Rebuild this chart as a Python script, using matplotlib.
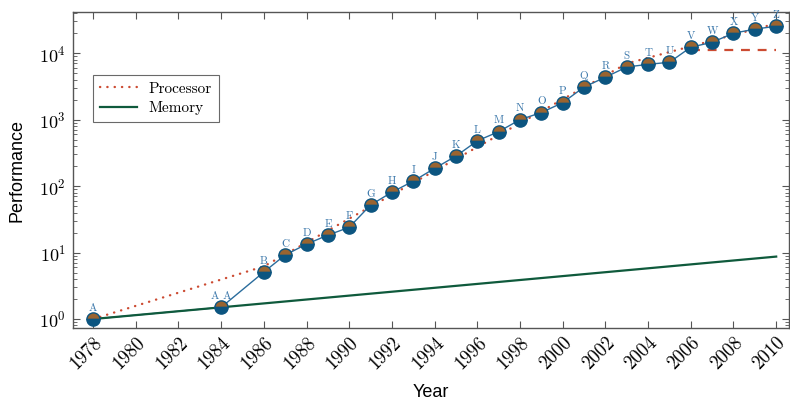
import matplotlib
matplotlib.use("Agg")
import matplotlib.pyplot as plt
from matplotlib.ticker import LogLocator, FixedLocator, NullFormatter

# Data
years = [1978, 1984, 1986, 1987, 1988, 1989, 1990, 1991, 1992, 1993, 1994,
         1995, 1996, 1997, 1998, 1999, 2000, 2001, 2002, 2003, 2004, 2005,
         2006, 2007, 2008, 2009, 2010]
point_labels = ['A', 'AA', 'B', 'C', 'D', 'E', 'F', 'G', 'H', 'I', 'J', 'K',
                'L', 'M', 'N', 'O', 'P', 'Q', 'R', 'S', 'T', 'U', 'V', 'W',
                'X', 'Y', 'Z']
perf = [1, 1.5, 5.1, 9.2, 13.4, 18.3, 24, 52, 81, 119, 185, 283, 480, 660,
        1000, 1280, 1800, 3100, 4350, 6200, 6800, 7300, 12300, 14600, 20000,
        23000, 25500]

proc_years = [1978, 1986, 2003, 2010]
proc_vals = [1, 6.2, 7000, 28000]
plateau_years = [2006, 2010]
plateau_vals = [11300, 11300]
mem_years = [1978, 2010]
mem_vals = [1, 8.7]

xticks = list(range(1978, 2011, 2))

serif = ['cmr10', 'DejaVu Serif']
sans = ['Liberation Sans', 'DejaVu Sans']
plt.rcParams['font.family'] = serif
plt.rcParams['mathtext.fontset'] = 'cm'
plt.rcParams['axes.formatter.use_mathtext'] = True

fig = plt.figure(figsize=(7.9, 4.01), dpi=100)
ax = fig.add_axes([73/790, 1-328/401, (789-73)/790, (328-12)/401])

red = '#cc4b32'
green = '#0f5a3c'
blue_line = '#2a6c9c'
brown = '#9a6430'
dblue = '#0c5580'
lbl_col = '#3c78ab'

ax.plot(proc_years, proc_vals, color=red, lw=1.7, linestyle=(0, (0.1, 3.0)),
        dash_capstyle='round', label='Processor', zorder=2)
ax.plot(plateau_years, plateau_vals, color=red, lw=1.6, linestyle=(0, (4, 3.5)),
        zorder=2)
ax.plot(years, perf, color=blue_line, lw=1.0, zorder=3)
ax.plot(mem_years, mem_vals, color=green, lw=1.6, label='Memory', zorder=4)
ax.plot(years, perf, linestyle='none', marker='o', markersize=9.5,
        fillstyle='top', markerfacecolor=brown, markerfacecoloralt=dblue,
        markeredgecolor=dblue, markeredgewidth=1.0, zorder=5)

for x, y, t in zip(years, perf, point_labels):
    txt = t if t != 'AA' else 'A A'
    ax.annotate(txt, (x, y), xytext=(0, 4.5), textcoords='offset points',
                ha='center', va='bottom', fontsize=8, color=lbl_col,
                family=serif, zorder=6)

ax.set_yscale('log')
ax.set_xlim(1977.06, 2010.6)
ax.set_ylim(10**-0.135, 10**4.62)

ax.xaxis.set_major_locator(FixedLocator(xticks))
ax.set_xticklabels([str(v) for v in xticks], rotation=45, ha='right',
                   rotation_mode='anchor', family=serif, fontsize=13.5)
ax.yaxis.set_major_locator(LogLocator(base=10, numticks=10))
ax.yaxis.set_minor_locator(LogLocator(base=10, subs=range(2, 10), numticks=20))
ax.yaxis.set_minor_formatter(NullFormatter())

ax.tick_params(axis='both', which='both', direction='in', top=True,
               right=True, color='#555555')
ax.tick_params(axis='x', which='major', length=5, pad=4)
ax.tick_params(axis='y', which='major', length=5, labelsize=13, pad=5)
ax.tick_params(axis='y', which='minor', length=3)
for s in ax.spines.values():
    s.set_color('#555555')
    s.set_linewidth(1.0)

ax.set_xlabel('Year', family=sans, fontsize=13, labelpad=8)
ax.set_ylabel('Performance', family=sans, fontsize=13, labelpad=10)

leg = ax.legend(loc='upper left', bbox_to_anchor=(20/716, 1-63/316),
                prop={'family': serif, 'size': 11}, frameon=True,
                fancybox=False, edgecolor='#444444', handlelength=2.4,
                borderpad=0.45, labelspacing=0.35, borderaxespad=0)
leg.get_frame().set_linewidth(0.8)

fig.savefig('out.png', dpi=100)
